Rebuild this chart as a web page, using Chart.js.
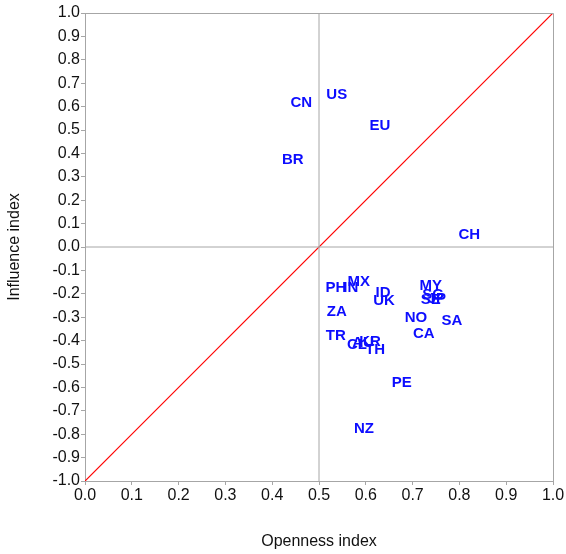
<!DOCTYPE html>
<html>
<head>
<meta charset="utf-8">
<script src="https://cdn.jsdelivr.net/npm/chart.js"></script>
<style>
html,body{margin:0;padding:0;background:#fff;}
#wrap{width:566px;height:554px;}
</style>
</head>
<body>
<div id="wrap"><canvas id="c" width="566" height="554"></canvas></div>
<script>
const countries = ["US","CN","EU","BR","CH","PH","IN","MX","ID","UK","ZA","TR","CL","AU","KR","TH","NO","CA","SA","MY","SG","SE","JP","PE","NZ"];
const openness  = [0.538,0.462,0.630,0.444,0.821,0.536,0.568,0.585,0.637,0.639,0.538,0.536,0.581,0.594,0.609,0.620,0.707,0.724,0.784,0.739,0.744,0.739,0.752,0.677,0.596];
const influence = [0.650,0.615,0.517,0.372,0.051,-0.175,-0.175,-0.150,-0.197,-0.231,-0.278,-0.380,-0.419,-0.410,-0.406,-0.440,-0.303,-0.372,-0.316,-0.167,-0.205,-0.226,-0.222,-0.581,-0.778];
const xTicks = [0.0,0.1,0.2,0.3,0.4,0.5,0.6,0.7,0.8,0.9,1.0];
const yTicks = [-1.0,-0.9,-0.8,-0.7,-0.6,-0.5,-0.4,-0.3,-0.2,-0.1,0.0,0.1,0.2,0.3,0.4,0.5,0.6,0.7,0.8,0.9,1.0];
const diagonal = [{x:0,y:-1},{x:1,y:1}];
const vRef = [{x:0.5,y:-1},{x:0.5,y:1}];
const hRef = [{x:0,y:0},{x:1,y:0}];

const FONT = "Arial, 'Liberation Sans', sans-serif";

const pts = countries.map((c,i)=>({x:openness[i], y:influence[i]}));

const labelPlugin = {
  id:'labels',
  afterDatasetsDraw(chart){
    const ctx = chart.ctx;
    const meta = chart.getDatasetMeta(3);
    ctx.save();
    ctx.font = "bold 15px " + FONT;
    ctx.fillStyle = "#0d0dff";
    ctx.textAlign = "center";
    ctx.textBaseline = "middle";
    meta.data.forEach((el,i)=>{
      ctx.fillText(countries[i], el.x, el.y);
    });
    ctx.restore();
  }
};
const framePlugin = {
  id:'frame',
  afterDraw(chart){
    const a = chart.chartArea, ctx = chart.ctx;
    ctx.save();
    ctx.strokeStyle = "#a6a6a6";
    ctx.lineWidth = 1;
    ctx.beginPath();
    ctx.moveTo(a.left, a.top+0.5); ctx.lineTo(a.right+0.5, a.top+0.5); ctx.lineTo(a.right+0.5, a.bottom);
    ctx.stroke();
    ctx.restore();
  }
};

new Chart(document.getElementById('c'), {
  type:'scatter',
  data:{
    datasets:[
      {type:'line', data:vRef, borderColor:'#a6a6a6', backgroundColor:'#a6a6a6', borderWidth:1, pointRadius:0, fill:false, tension:0},
      {type:'line', data:hRef, borderColor:'#a6a6a6', backgroundColor:'#a6a6a6', borderWidth:1, pointRadius:0, fill:false, tension:0},
      {type:'line', data:diagonal, borderColor:'rgb(255,0,0)', backgroundColor:'rgb(255,0,0)', borderWidth:1.2, pointRadius:0, fill:false, tension:0},
      {type:'scatter', data:pts, pointRadius:0, showLine:false, borderColor:'#0d0dff', backgroundColor:'#0d0dff'}
    ]
  },
  options:{
    responsive:false,
    animation:false,
    events:[],
    layout:{padding:{top:13,right:13,left:0,bottom:0}},
    plugins:{legend:{display:false}, tooltip:{enabled:false}},
    scales:{
      x:{
        type:'linear', min:0, max:1,
        afterBuildTicks(s){ s.ticks = xTicks.map(v=>({value:v})); },
        afterFit(s){ s.height = 73; },
        ticks:{ font:{family:FONT,size:16}, color:'#111', padding:1, maxRotation:0, autoSkip:false,
                callback:(v)=>Number(v).toFixed(1) },
        grid:{ drawOnChartArea:false, drawTicks:true, tickLength:4, color:'#a6a6a6' },
        border:{ display:true, color:'#a6a6a6' },
        title:{ display:true, text:'Openness index', font:{family:FONT,size:16}, color:'#111', padding:{top:0,bottom:3} }
      },
      y:{
        type:'linear', min:-1, max:1,
        afterBuildTicks(s){ s.ticks = yTicks.map(v=>({value:v})); },
        afterFit(s){ s.width = 85; },
        ticks:{ font:{family:FONT,size:16}, color:'#111', padding:1, autoSkip:false,
                callback:(v)=>Number(v).toFixed(1) },
        grid:{ drawOnChartArea:false, drawTicks:true, tickLength:4, color:'#a6a6a6' },
        border:{ display:true, color:'#a6a6a6' },
        title:{ display:true, text:'Influence index', font:{family:FONT,size:16}, color:'#111', padding:{top:5,bottom:0} }
      }
    }
  },
  plugins:[labelPlugin, framePlugin]
});
</script>
</body>
</html>
